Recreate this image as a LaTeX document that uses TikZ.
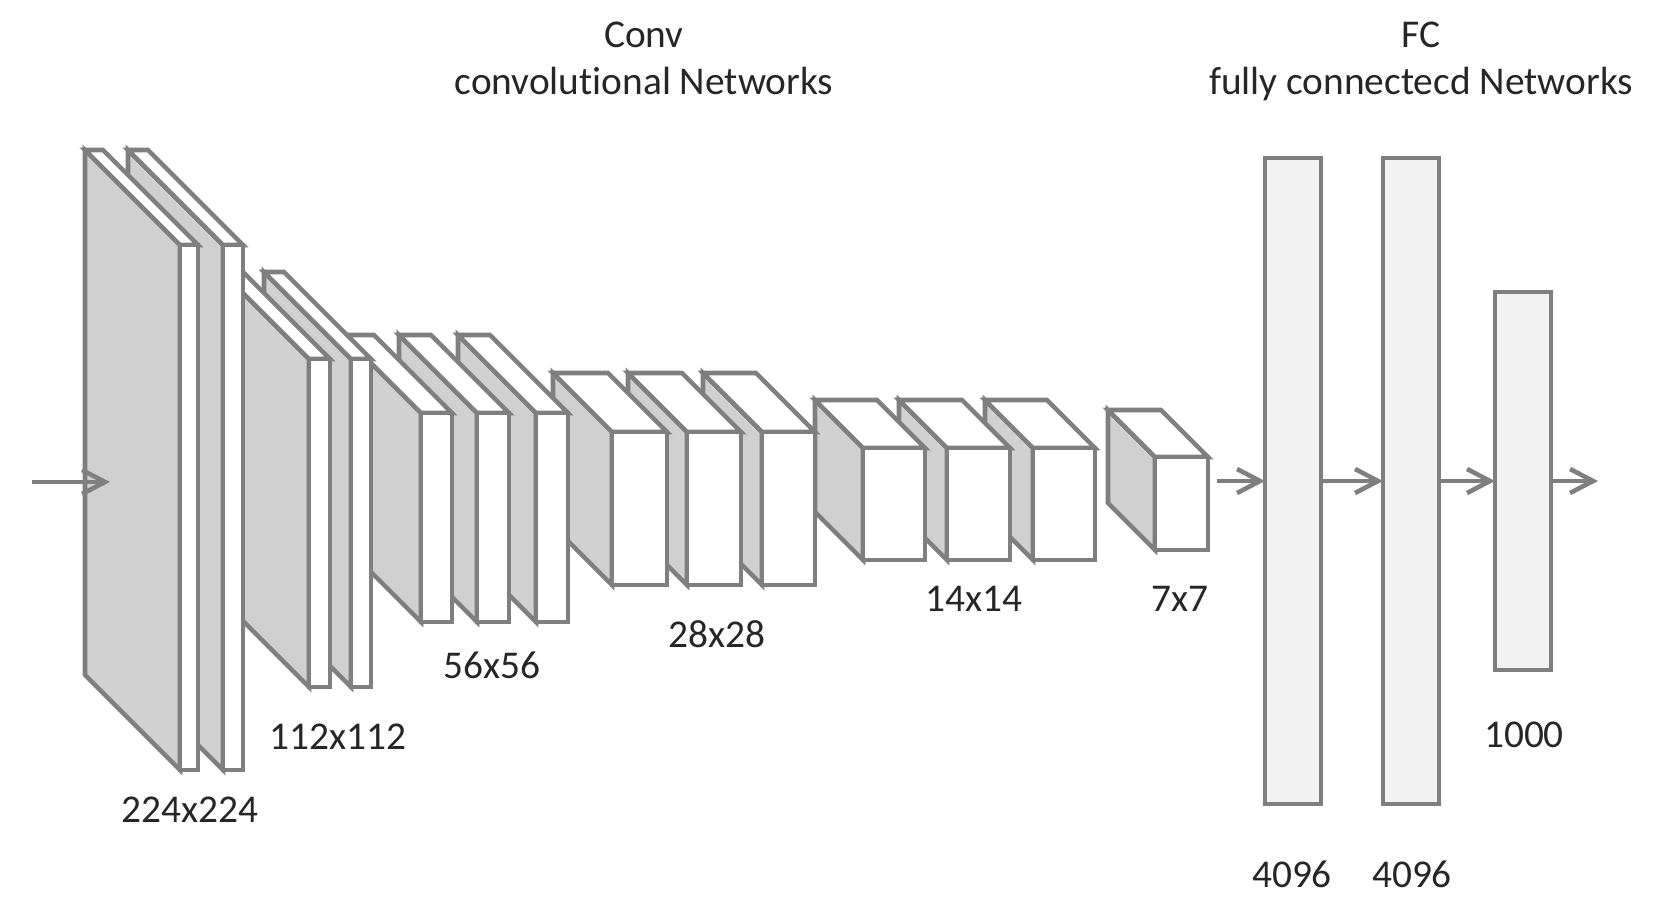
\documentclass[tikz,border=0pt]{standalone}
\RequirePackage{fontspec}
\setmainfont{Carlito}[Ligatures=NoCommon]
\RequirePackage{tikz}
\usetikzlibrary{arrows.meta}
\definecolor{edgegray}{HTML}{7F7F7F}
\definecolor{sidegray}{HTML}{D0D0D0}
\definecolor{fcgray}{HTML}{F2F2F2}
\newcommand*{\convlayer}[6]{%
    \filldraw[sideface](#2,#3)--++(-#6,-#6)--++(0,#5)--(#2,#3+#5)--cycle;
    \filldraw[topface](#2,#3)--++(-#6,-#6)--++(#4,0)--(#2+#4,#3)--cycle;
    \node[frontface,minimum width=#4*0.1mm,minimum height=#5*0.1mm] (#1) at(#2,#3) {};
}

\begin{document}
\begin{tikzpicture}[x=0.1mm,y=-0.1mm,>={Straight Barb[length=2.3mm,width=2.4mm]},
    sideface/.style={fill=sidegray,draw=edgegray,line width=1.3pt},
    topface/.style={fill=white,draw=edgegray,line width=1.3pt},
    frontface/.style={rectangle,fill=white,draw=edgegray,line width=1.3pt,anchor=north west,inner sep=0pt,outer sep=0pt},
    fcbox/.style={rectangle,fill=fcgray,draw=edgegray,line width=1.3pt,minimum width=5.6mm,inner sep=0pt,outer sep=0pt},
    flow/.style={->,draw=edgegray,line width=1.3pt},
    every node/.style={font=\fontsize{11.2}{13.4}\selectfont,text=black!85}]
                \useasboundingbox (0,0) rectangle (1653,900);

                \convlayer{e}{1155}{457}{53}{93}{47}
                \convlayer{d3}{1033}{448}{62}{112}{48}
                \convlayer{d2}{947}{448}{63}{112}{48}
                \convlayer{d1}{863}{448}{62}{112}{48}
                \convlayer{c3}{762}{432}{53}{153}{59}
                \convlayer{c2}{687}{432}{54}{153}{59}
                \convlayer{c1}{612}{432}{55}{153}{59}
                \convlayer{b3}{536}{413}{32}{209}{78}
                \convlayer{b2}{477}{413}{32}{209}{78}
                \convlayer{b1}{421}{413}{31}{209}{78}
                \convlayer{p4}{351}{359}{20}{328}{87}
                \convlayer{p3}{309}{359}{21}{328}{87}
                \convlayer{p2}{223}{245}{20}{525}{95}
                \convlayer{p1}{180}{245}{18}{525}{95}

                \node[fcbox,minimum height=64.6mm] (fc1) at(1293,481) {};
                \node[fcbox,minimum height=64.6mm] (fc2) at(1411,481) {};
                \node[fcbox,minimum height=37.8mm] (fc3) at(1523,481) {};

                \coordinate (src) at(32,482);
                \coordinate (p1in) at(110,482);
                \coordinate (sink) at(1598,481);
                \draw[flow](src)--(p1in);
                \draw[flow,shorten <=0.9mm](e.east|-fc1.west)--(fc1.west);
                \draw[flow](fc1.east)--(fc2.west);
                \draw[flow](fc2.east)--(fc3.west);
                \draw[flow](fc3.east)--(sink);

                \node[align=center] (convtitle) at(644,58) {Conv\\convolutional Networks};
                \node[align=center] (fctitle) at(1421,61) {FC\\fully connectecd Networks};
                \node (lbl224) at(190,810) {224x224};
                \node (lbl112) at(338,737) {112x112};
                \node (lbl56) at(492,665) {56x56};
                \node (lbl28) at(717,634) {28x28};
                \node (lbl14) at(974,599) {14x14};
                \node (lbl7) at(1180,599) {7x7};
                \node (lblfc1) at(1292,874) {4096};
                \node (lblfc2) at(1412,874) {4096};
                \node (lblfc3) at(1524,735) {1000};
\end{tikzpicture}
\end{document}
